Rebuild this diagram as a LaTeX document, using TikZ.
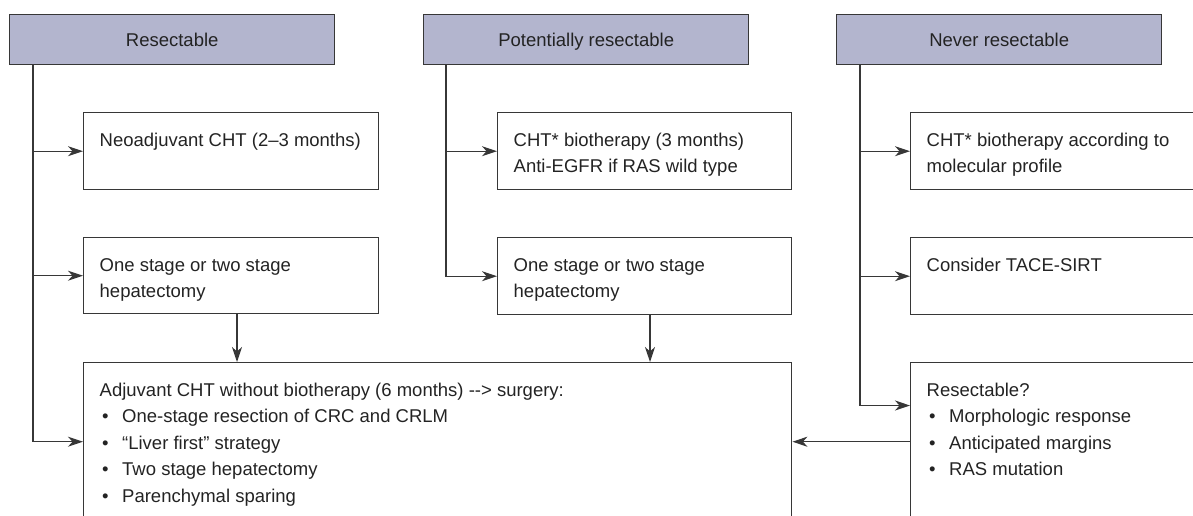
\documentclass[tikz,border=0pt]{standalone}
\usepackage{fontspec}
\setmainfont{Liberation Sans}
\usetikzlibrary{arrows.meta,calc}
\definecolor{hdr}{RGB}{179,181,206}
\definecolor{linec}{RGB}{55,55,55}
\definecolor{txtc}{RGB}{35,35,35}
\newcommand{\bxt}[3]{\parbox[t][#2][t]{#1}{\raggedright\rule{0pt}{33.3pt}#3}}
\newcommand{\bul}{\hspace*{2.5pt}\makebox[20pt][l]{•}}
\begin{document}
\begin{tikzpicture}[x=1pt,y=-1pt,
  every node/.style={font=\fontsize{18.5}{26.6}\selectfont, text=txtc},
  hdrbox/.style={draw=linec, line width=1.4pt, fill=hdr, anchor=north west,
    minimum width=325pt, minimum height=50pt, inner sep=0pt,
    text height=13.3pt, text depth=0pt},
  stepbox/.style={draw=linec, line width=1.4pt, anchor=north west,
    inner xsep=16pt, inner ysep=0pt},
  conn/.style={draw=linec, line width=1.2pt},
  arr/.style={conn, -{Stealth[length=15pt,width=10pt,inset=4.5pt]}}
]
\useasboundingbox (0,0) rectangle (1193,515);
\clip (0,0) rectangle (1193,515);

\node[hdrbox] (H1) at (9,14) {Resectable};
\node[hdrbox] (H2) at (423,14) {Potentially resectable};
\node[hdrbox] (H3) at (836,14) {Never resectable};

\node[stepbox] (L1) at (83,112) {\bxt{263pt}{77pt}{Neoadjuvant CHT (2–3 months)}};
\node[stepbox] (L2) at (83,237) {\bxt{263pt}{76pt}{One stage or two stage\\hepatectomy}};
\node[stepbox] (M1) at (497,112) {\bxt{262pt}{77pt}{CHT* biotherapy (3 months)\\Anti-EGFR if RAS wild type}};
\node[stepbox] (M2) at (497,237) {\bxt{262pt}{77pt}{One stage or two stage\\hepatectomy}};
\node[stepbox] (R1) at (910,112) {\bxt{263pt}{77pt}{CHT* biotherapy according to\\molecular profile}};
\node[stepbox] (R2) at (910,237) {\bxt{263pt}{77pt}{Consider TACE-SIRT}};
\node[stepbox] (R3) at (910,362) {\bxt{263pt}{158pt}{Resectable?\\\bul Morphologic response\\\bul Anticipated margins\\\bul RAS mutation}};
\node[stepbox] (B) at (83,362) {\bxt{676pt}{158pt}{Adjuvant CHT without biotherapy (6 months) \mbox{-}\mbox{-}> surgery:\\\bul One-stage resection of CRC and CRLM\\\bul “Liver first” strategy\\\bul Two stage hepatectomy\\\bul Parenchymal sparing}};

\coordinate (c1) at ($(H1.south west)+(24,0)$);
\draw[arr] (c1) |- (L1.west);
\draw[arr] (c1) |- (L2.west);
\draw[arr] (c1) |- (B.west);

\coordinate (c2) at ($(H2.south west)+(23,0)$);
\draw[arr] (c2) |- (M1.west);
\draw[arr] (c2) |- (M2.west);

\coordinate (c3) at ($(H3.south west)+(24,0)$);
\coordinate (r3in) at ($(R3.north west)+(0,43.5)$);
\draw[arr] (c3) |- (R1.west);
\draw[arr] (c3) |- (R2.west);
\draw[arr] (c3) |- (r3in);

\draw[arr] (R3.west) -- (B.east);

\coordinate (d1) at ($(L2.south west)+(154,0)$);
\draw[arr] (d1) -- (d1 |- B.north);
\coordinate (d2) at ($(M2.south west)+(153,0)$);
\draw[arr] (d2) -- (d2 |- B.north);
\end{tikzpicture}
\end{document}
